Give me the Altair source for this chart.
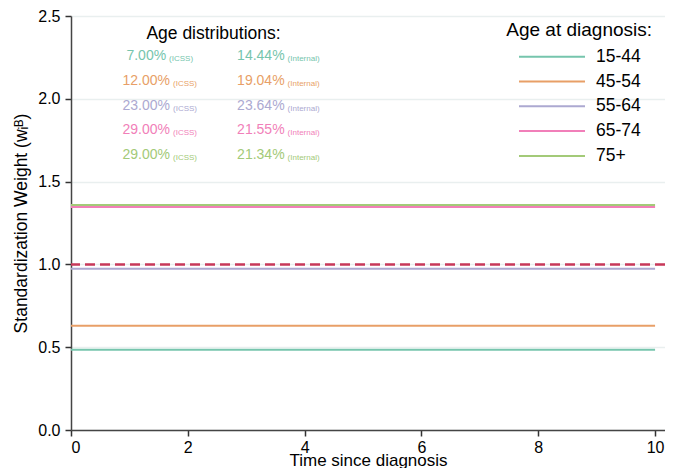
import altair as alt
import pandas as pd

# ---------------- data ----------------
groups = ["15-44", "45-54", "55-64", "65-74", "75+"]
icss_pct = [7.00, 12.00, 23.00, 29.00, 29.00]
internal_pct = [14.44, 19.04, 23.64, 21.55, 21.34]
weights = [0.485, 0.630, 0.973, 1.346, 1.359]
time_span = [0, 10]
x_ticks = [0, 2, 4, 6, 8, 10]
y_ticks = [0.0, 0.5, 1.0, 1.5, 2.0, 2.5]
ref_value = 1.0
colors = ["#76c5ad", "#e89f67", "#aca9d1", "#f17fb9", "#a3ca78"]

# ---------------- layout ----------------
FONT = "Liberation Sans"
PLOT_W, PLOT_H = 594, 414
X_MAX = 10.17
Y_MAX = 2.5
PX_PER_X = PLOT_W / X_MAX

xscale = alt.Scale(domain=[0, X_MAX], nice=False, zero=False)
yscale = alt.Scale(domain=[0, Y_MAX], nice=False)

# line data
rows = []
for g, w in zip(groups, weights):
    for t in time_span:
        rows.append({"group": g, "time": t, "weight": w})
lines_df = pd.DataFrame(rows)

# approximate Arial advance widths (per 1000 em)
ADV = {**{d: 556 for d in "0123456789"}, ".": 278, "%": 889, "(": 333, ")": 333,
       "I": 278, "C": 722, "S": 667, "n": 556, "t": 278, "e": 556, "r": 333,
       "a": 556, "l": 222}


def tw(s, size):
    return sum(ADV.get(c, 556) for c in s) * size / 1000.0


MAIN_SIZE, SUB_SIZE, GAP = 14, 8, 3
COL_X = [1.52, 3.55]
ROW_Y0, ROW_STEP = 2.235, 0.15

ann = []
for i, g in enumerate(groups):
    for col, (val, lab) in enumerate([(icss_pct[i], "(ICSS)"), (internal_pct[i], "(Internal)")]):
        main = f"{val:.2f}%"
        wm, ws = tw(main, MAIN_SIZE), tw(lab, SUB_SIZE)
        W = wm + GAP + ws
        right_px = -W / 2 + wm
        ann.append({
            "main": main, "sub": lab, "color": colors[i],
            "xm": COL_X[col] + right_px / PX_PER_X,
            "xs": COL_X[col] + (right_px + GAP) / PX_PER_X,
            "y": ROW_Y0 - ROW_STEP * i,
        })
ann_df = pd.DataFrame(ann)

titles_df = pd.DataFrame([
    {"label": "Age distributions:", "x": 2.44, "y": 2.361, "size": 17.5},
    {"label": "Age at diagnosis:", "x": 8.70, "y": 2.379, "size": 19},
])

base_x = alt.X("time:Q", scale=xscale,
               axis=alt.Axis(values=x_ticks, title="Time since diagnosis", grid=False, format="d"))
base_y = alt.Y("weight:Q", scale=yscale,
               axis=alt.Axis(values=y_ticks, format=".1f", title="Standardization Weight (wᵢᴮ)", grid=True))

lines = alt.Chart(lines_df).mark_line(strokeWidth=2).encode(
    x=base_x,
    y=base_y,
    color=alt.Color("group:N", scale=alt.Scale(domain=groups, range=colors),
                    legend=alt.Legend(title=None, orient="none", legendX=469, legendY=28.7,
                                      symbolType="M-3,0H3", symbolSize=484, symbolStrokeWidth=2,
                                      symbolFillColor="transparent",
                                      labelFontSize=17.5, labelFont=FONT, labelColor="#000",
                                      labelOffset=32, padding=0, rowPadding=3.8)),
)

ref = alt.Chart(pd.DataFrame({"weight": [ref_value]})).mark_rule(
    color="#c8385a", strokeDash=[10, 5], strokeWidth=2.5
).encode(y=alt.Y("weight:Q", scale=yscale))

main_txt = alt.Chart(ann_df).mark_text(align="right", baseline="alphabetic", fontSize=MAIN_SIZE, font=FONT).encode(
    x=alt.X("xm:Q", scale=xscale), y=alt.Y("y:Q", scale=yscale),
    text="main:N", color=alt.Color("color:N", scale=None))
sub_txt = alt.Chart(ann_df).mark_text(align="left", baseline="alphabetic", fontSize=SUB_SIZE, font=FONT, dy=1).encode(
    x=alt.X("xs:Q", scale=xscale), y=alt.Y("y:Q", scale=yscale),
    text="sub:N", color=alt.Color("color:N", scale=None))

title_txt = alt.Chart(titles_df).mark_text(align="center", baseline="alphabetic", font=FONT, color="#000").encode(
    x=alt.X("x:Q", scale=xscale), y=alt.Y("y:Q", scale=yscale),
    text="label:N", size=alt.Size("size:Q", scale=None, legend=None))

chart = alt.layer(lines, ref, main_txt, sub_txt, title_txt).properties(
    width=PLOT_W, height=PLOT_H,
    autosize=alt.AutoSizeParams(type="none"),
    padding={"left": 63, "top": 8, "right": 0, "bottom": 38},
).configure_view(stroke=None).configure_axis(
    labelFont=FONT, titleFont=FONT, labelFontSize=16, titleFontSize=17.5,
    labelColor="#000", titleColor="#000", titleFontWeight="normal",
    tickColor="#333", tickSize=6, tickWidth=1.5, labelPadding=5,
    domainColor="#444", domainWidth=1.5,
    gridColor="#e9efef", gridWidth=1.5,
).configure_axisY(labelAngle=0, titlePadding=7).configure_axisX(
    titleBaseline="alphabetic", titleY=35, titleFontSize=17, labelPadding=3)

chart.save("out.html", embed_options={"renderer": "svg", "actions": False})
